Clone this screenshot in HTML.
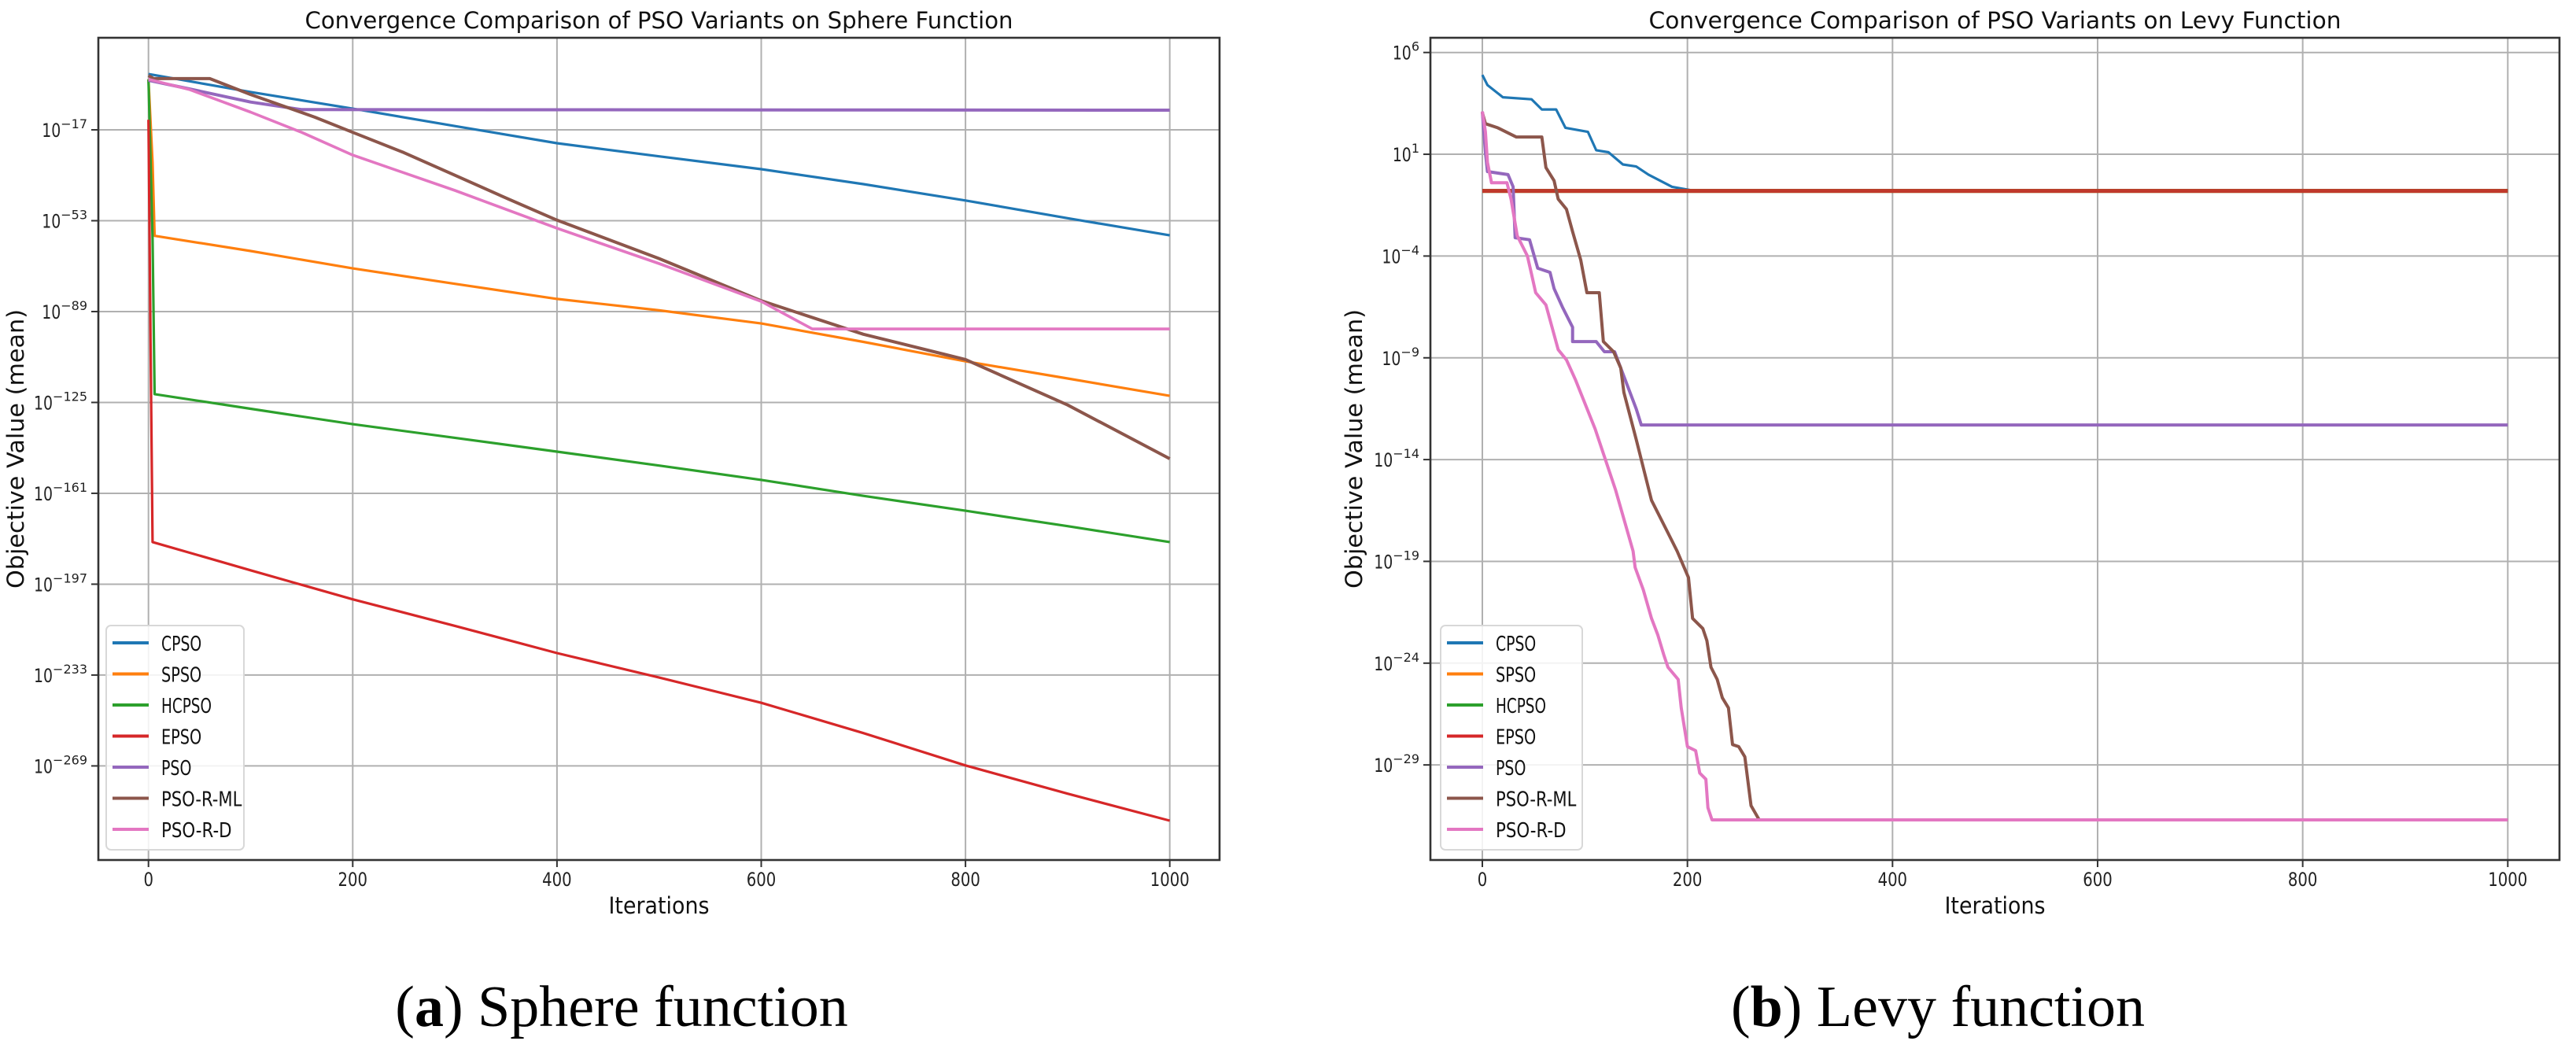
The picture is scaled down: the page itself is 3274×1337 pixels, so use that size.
<!DOCTYPE html>
<html><head><meta charset="utf-8"><style>
html,body{margin:0;padding:0;background:#fff;}
svg{display:block;}
</style></head><body>
<svg id="fig" xmlns="http://www.w3.org/2000/svg" width="3274" height="1337" viewBox="0 0 3274 1337">
<rect width="3274" height="1337" fill="#fff"/>
<g id="chartA"></g>
<g id="chartB"></g>
<text x="790" y="1304" text-anchor="middle" font-family="Liberation Serif, serif" font-size="74">(<tspan font-weight="bold">a</tspan>) Sphere function</text>
<text x="2463" y="1304" text-anchor="middle" font-family="Liberation Serif, serif" font-size="74">(<tspan font-weight="bold">b</tspan>) Levy function</text>
</svg>
<script>
const seriesNames = ["CPSO","SPSO","HCPSO","EPSO","PSO","PSO-R-ML","PSO-R-D"];
const seriesColors = ["#1f77b4","#ff7f0e","#2ca02c","#d62728","#9467bd","#8c564b","#e377c2"];
const xTicks = [0,200,400,600,800,1000];

// Sphere (log10 exponents)
const sphereTicks = [-17,-53,-89,-125,-161,-197,-233,-269];
const sCPSO_x = [0,100,200,300,400,500,600,700,800,900,1000];
const sCPSO_y = [5.1,-2,-8.6,-15.5,-22.3,-27.5,-32.6,-38.5,-45,-52,-58.8];
const sSPSO_x = [0,4,6,100,200,300,400,500,600,700,800,900,1000];
const sSPSO_y = [3,-30,-59,-65,-71.9,-78,-84,-88.5,-93.7,-101,-108.7,-115.5,-122.4];
const sHCPSO_x = [0,4,6,100,200,300,400,500,600,700,800,900,1000];
const sHCPSO_y = [3,-60,-121.7,-127.5,-133.6,-139,-144.5,-150,-155.7,-162,-167.9,-174,-180.3];
const sEPSO_x = [0,2,4,100,200,300,400,500,600,700,800,900,1000];
const sEPSO_y = [-13,-100,-180.3,-191.5,-203,-213.5,-224.3,-234,-244,-256,-268.8,-280,-290.7];
const sPSO_x = [0,40,100,150,1000];
const sPSO_y = [2.6,-0.8,-6,-9,-9.2];
const sPSOML_x = [0,5,60,100,163,200,250,300,350,400,500,600,700,780,800,900,1000];
const sPSOML_y = [4.5,3.3,3.3,-3,-12,-18,-26,-35,-44,-52.8,-68,-84.7,-98,-106,-108,-126,-147.3];
const sPSORD_x = [0,40,100,150,200,300,400,500,600,650,1000];
const sPSORD_y = [3,-1,-10,-18,-27,-41,-56,-70,-85,-95.9,-95.9];

// Levy
const levyTicks = [6,1,-4,-9,-14,-19,-24,-29];
const lCPSO_x = [0,5,20,48,58,72,81,103,111,123,137,150,162,185,207,1000];
const lCPSO_y = [4.9,4.4,3.8,3.7,3.2,3.2,2.3,2.1,1.2,1.1,0.5,0.4,0,-0.6,-0.8,-0.8];
const lFlat_x = [0,1000];
const lFlat_y = [-0.8,-0.8];
const lPSO_x = [0,3,5,25,30,32,46,54,66,70,78,88,88,111,119,129,135,150,155,1000];
const lPSO_y = [3.1,1.1,0.15,0,-0.6,-3.1,-3.2,-4.6,-4.8,-5.6,-6.5,-7.5,-8.2,-8.2,-8.7,-8.7,-9.5,-11.5,-12.3,-12.3];
const lPSOML_x = [0,3,15,33,58,62,70,74,82,88,96,102,114,118,128,135,138,150,165,180,190,201,205,215,219,223,229,234,240,244,250,256,262,270,1000];
const lPSOML_y = [3.05,2.5,2.3,1.85,1.85,0.35,-0.3,-1.2,-1.7,-2.8,-4.2,-5.8,-5.8,-8.2,-8.7,-9.5,-10.7,-13,-16,-17.5,-18.5,-19.8,-21.8,-22.3,-22.9,-24.2,-24.8,-25.7,-26.2,-28,-28.1,-28.6,-31,-31.7,-31.7];
const lPSORD_x = [0,3,5,9,24,28,34,44,48,52,62,68,74,82,91,110,130,147,149,157,165,171,177,181,191,194,200,208,212,218,220,224,1000];
const lPSORD_y = [3.1,2.1,0.6,-0.4,-0.4,-1.2,-3,-4,-4.9,-5.8,-6.4,-7.5,-8.6,-9.1,-10.1,-12.5,-15.5,-18.5,-19.3,-20.4,-21.8,-22.6,-23.6,-24.2,-24.8,-26.2,-28.1,-28.3,-29.4,-29.7,-31.1,-31.7,-31.7];

const NS="http://www.w3.org/2000/svg";
function mk(tag,attrs,parent){const e=document.createElementNS(NS,tag);for(const k in attrs)e.setAttribute(k,attrs[k]);parent.appendChild(e);return e;}

function drawChart(g,cfg){
  const {L,R,T,B,x0px,x1000px,refDec,refY,pxPerDec,ticks,series,title,titleLen,legX,legW} = cfg;
  const sx = v => x0px + (x1000px-x0px)*v/1000;
  const sy = d => refY + (refDec-d)*pxPerDec;
  xTicks.forEach(t=>{
    const l=mk('line',{x1:sx(t),x2:sx(t),y1:T,y2:B,stroke:'#b0b0b0','stroke-width':2},g);
    
    
  });
  ticks.forEach(t=>{
    const l=mk('line',{x1:L,x2:R,y1:sy(t),y2:sy(t),stroke:'#b0b0b0','stroke-width':2},g);
    
    
  });
  const cid='clip'+g.id;
  const cp=mk('clipPath',{id:cid},g); mk('rect',{x:L,y:T,width:R-L,height:B-T},cp);
  const sg=mk('g',{'clip-path':'url(#'+cid+')'},g);
  series.forEach(s=>{
    const pts=s.xs.map((x,i)=>sx(x).toFixed(1)+','+sy(s.ys[i]).toFixed(1)).join(' ');
    const p=mk('polyline',{points:pts,fill:'none',stroke:s.color,'stroke-width':s.w||3.2,'stroke-linejoin':'round'},sg);
    
    
  });
  const sp=mk('rect',{x:L,y:T,width:R-L,height:B-T,fill:'none',stroke:'#333','stroke-width':2.6},g);
  
  
  xTicks.forEach(t=>{
    mk('line',{x1:sx(t),x2:sx(t),y1:B,y2:B+9,stroke:'#333','stroke-width':2},g);
    const tx=mk('text',{x:sx(t),y:B+33,'text-anchor':'middle','font-family':'DejaVu Sans, sans-serif','font-size':24,fill:'#222',textLength:(String(t).length*12.5),lengthAdjust:'spacingAndGlyphs'},g);
    tx.textContent=t;
    
    
  });
  ticks.forEach(t=>{
    const y=sy(t);
    mk('line',{x1:L-9,x2:L,y1:y,y2:y,stroke:'#333','stroke-width':2},g);
    const tx=mk('text',{x:L-14,y:y+9,'text-anchor':'end','font-family':'DejaVu Sans, sans-serif','font-size':24,fill:'#222'},g);
    
    
    const a=document.createElementNS(NS,'tspan'); a.textContent='10'; a.setAttribute('textLength','24'); a.setAttribute('lengthAdjust','spacingAndGlyphs'); tx.appendChild(a);
    const b=document.createElementNS(NS,'tspan'); b.setAttribute('dy','-11'); b.setAttribute('font-size','16');
    b.textContent=(t<0?'\u2212':'')+Math.abs(t); tx.appendChild(b);
  });
  const ti=mk('text',{x:(L+R)/2,y:36,'text-anchor':'middle','font-family':'DejaVu Sans, sans-serif','font-size':29,fill:'#111',textLength:titleLen,lengthAdjust:'spacingAndGlyphs'},g);
  ti.textContent=title;
  
  
  const xl=mk('text',{x:(L+R)/2,y:B+68,'text-anchor':'middle','font-family':'DejaVu Sans, sans-serif','font-size':29,fill:'#111',textLength:128,lengthAdjust:'spacingAndGlyphs'},g);
  xl.textContent='Iterations';
  
  
  const yc=(T+B)/2, yx=cfg.ylabX;
  const yl=mk('text',{x:yx,y:yc,'text-anchor':'middle','font-family':'DejaVu Sans, sans-serif','font-size':29,fill:'#111',transform:'rotate(-90 '+yx+' '+yc+')',textLength:355,lengthAdjust:'spacingAndGlyphs'},g);
  yl.textContent='Objective Value (mean)';
  
  
  const lg=mk('g',{},g);
  
  
  mk('rect',{x:legX,y:795,width:legW,height:285,rx:6,fill:'#fff','fill-opacity':0.85,stroke:'#d8d8d8','stroke-width':2},lg);
  seriesNames.forEach((n,i)=>{
    const y=817+i*39.5;
    const e=mk('g',{},lg);
    
    
    mk('line',{x1:legX+8,x2:legX+54,y1:y,y2:y,stroke:seriesColors[i],'stroke-width':4},e);
    const t=mk('text',{x:legX+70,y:y+10,'font-family':'DejaVu Sans, sans-serif','font-size':26,fill:'#111',textLength:n.length*12.8,lengthAdjust:'spacingAndGlyphs'},e);
    t.textContent=n;
  });
}

drawChart(document.getElementById('chartA'),{
  L:125,R:1550,T:48,B:1093,x0px:188.7,x1000px:1486.7,refDec:-17,refY:165,pxPerDec:3.208,
  ticks:sphereTicks,title:'Convergence Comparison of PSO Variants on Sphere Function',titleLen:900,
  ylabX:30,legX:135,legW:175,
  series:[
    {name:'CPSO',color:seriesColors[0],xs:sCPSO_x,ys:sCPSO_y},
    {name:'SPSO',color:seriesColors[1],xs:sSPSO_x,ys:sSPSO_y},
    {name:'HCPSO',color:seriesColors[2],xs:sHCPSO_x,ys:sHCPSO_y},
    {name:'EPSO',color:seriesColors[3],xs:sEPSO_x,ys:sEPSO_y},
    {name:'PSO',color:seriesColors[4],xs:sPSO_x,ys:sPSO_y,w:4},
    {name:'PSO-R-ML',color:seriesColors[5],xs:sPSOML_x,ys:sPSOML_y,w:4},
    {name:'PSO-R-D',color:seriesColors[6],xs:sPSORD_x,ys:sPSORD_y,w:3.6}
  ]
});
drawChart(document.getElementById('chartB'),{
  L:1818,R:3253,T:48,B:1093,x0px:1884,x1000px:3187.3,refDec:6,refY:66.7,pxPerDec:25.87,
  ticks:levyTicks,title:'Convergence Comparison of PSO Variants on Levy Function',titleLen:880,
  ylabX:1731,legX:1831,legW:180,
  series:[
    {name:'CPSO',color:seriesColors[0],xs:lCPSO_x,ys:lCPSO_y},
    {name:'SPSO',color:seriesColors[1],xs:lFlat_x,ys:lFlat_y,w:5},
    {name:'HCPSO',color:seriesColors[2],xs:lFlat_x,ys:lFlat_y,w:5},
    {name:'EPSO',color:'#c0392b',xs:lFlat_x,ys:lFlat_y,w:5},
    {name:'PSO',color:seriesColors[4],xs:lPSO_x,ys:lPSO_y,w:4},
    {name:'PSO-R-ML',color:seriesColors[5],xs:lPSOML_x,ys:lPSOML_y,w:4},
    {name:'PSO-R-D',color:seriesColors[6],xs:lPSORD_x,ys:lPSORD_y,w:4}
  ]
});
</script>
</body></html>
